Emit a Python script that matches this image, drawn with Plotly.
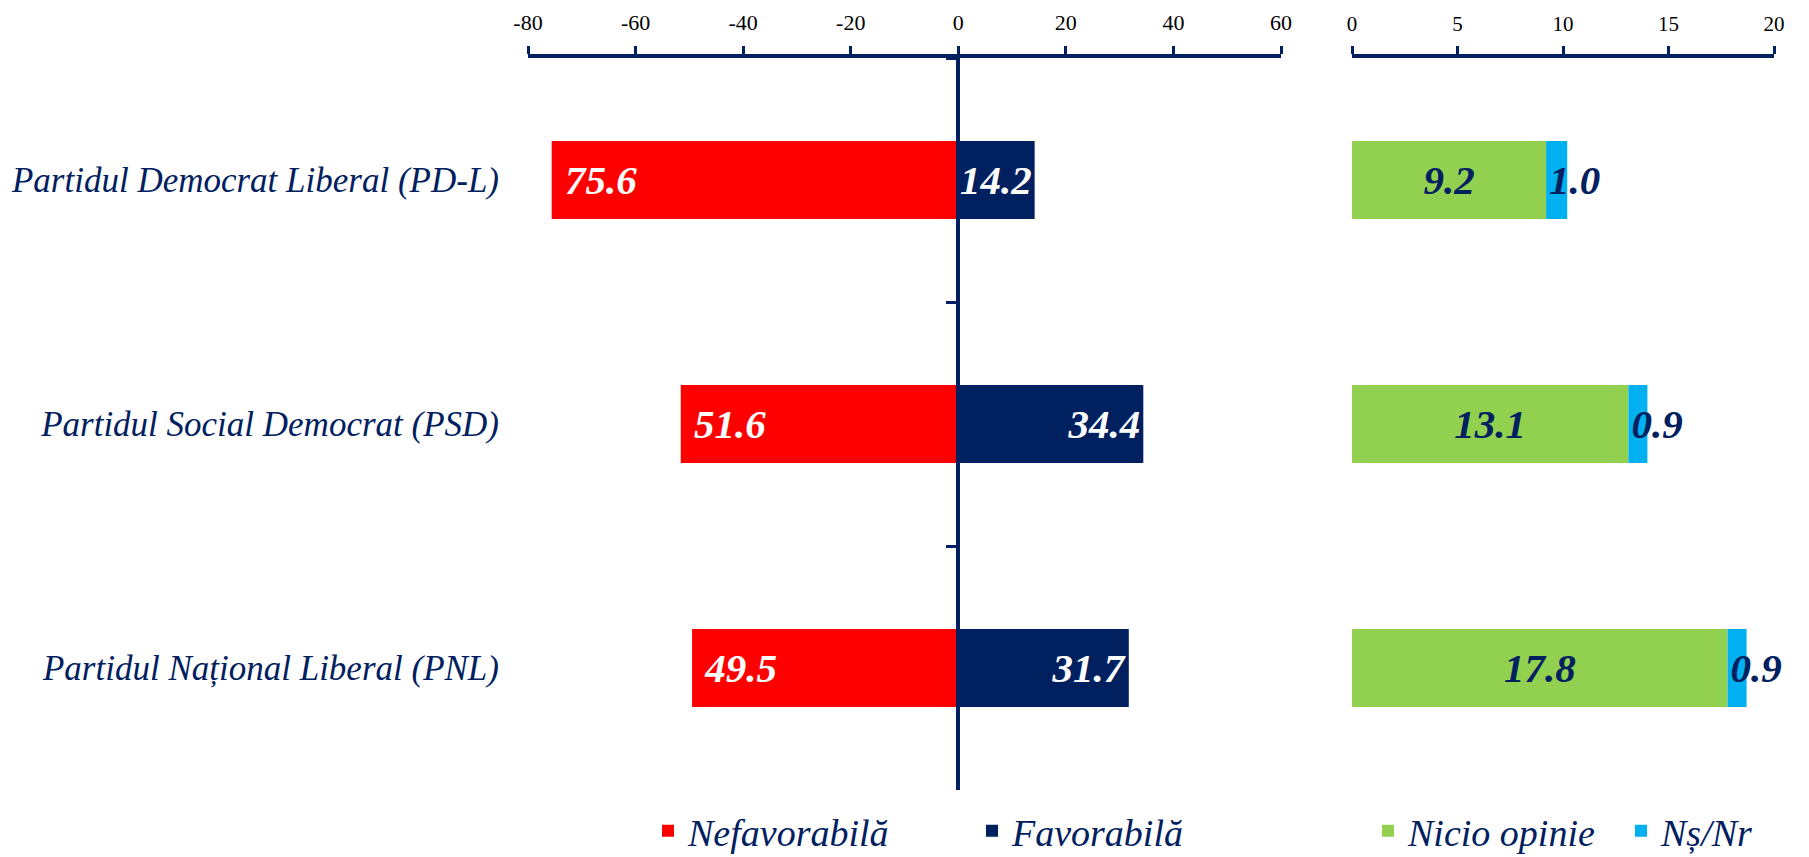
import plotly.graph_objects as go

# ---- data ----
parties = ["Partidul Democrat Liberal (PD-L)", "Partidul Social Democrat (PSD)", "Partidul Național Liberal (PNL)"]
nefavorabila = [75.6, 51.6, 49.5]
favorabila = [14.2, 34.4, 31.7]
nicio_opinie = [9.2, 13.1, 17.8]
ns_nr = [1.0, 0.9, 0.9]
left_ticks = [-80, -60, -40, -20, 0, 20, 40, 60]
right_ticks = [0, 5, 10, 15, 20]

NAVY = "#002060"
RED = "#FF0000"
GREEN = "#92D050"
BLUE = "#00B0F0"
FONT = "Liberation Serif"

OFF = 8  # page body margin
W, H = 1809 - OFF, 857 - OFF
TOP, BOT = 58 - OFF, 790 - OFF
L_RANGE = [-80, 60]
R_RANGE = [0, 20]
x1_dom = [(528 - OFF) / W, (1281 - OFF) / W]
x2_dom = [(1352 - OFF) / W, (1774 - OFF) / W]
zero_pos = x1_dom[0] + (0 - L_RANGE[0]) / (L_RANGE[1] - L_RANGE[0]) * (x1_dom[1] - x1_dom[0])
leg_y = (BOT - (831 - OFF)) / (BOT - TOP)

fig = go.Figure()

label_font_w = dict(family=FONT, size=41, color="white", style="italic", weight="bold")
label_font_n = dict(family=FONT, size=41, color=NAVY, style="italic", weight="bold")
NB = "\u00a0"

fig.add_trace(go.Bar(
    y=parties, x=[-v for v in nefavorabila], orientation="h", name="Nefavorabilă",
    marker=dict(color=RED, line=dict(width=0)),
    text=[f"{NB}{v:.1f}" for v in nefavorabila], textposition="inside", insidetextanchor="end",
    constraintext="none", textangle=0, textfont=label_font_w, insidetextfont=label_font_w,
    xaxis="x", yaxis="y", legend="legend", cliponaxis=False,
))
fig.add_trace(go.Bar(
    y=parties, x=favorabila, orientation="h", name="Favorabilă",
    marker=dict(color=NAVY, line=dict(width=0)),
    text=[f"{v:.1f}" for v in favorabila], textposition="inside", insidetextanchor="end",
    constraintext="none", textangle=0, textfont=label_font_w, insidetextfont=label_font_w,
    xaxis="x", yaxis="y", legend="legend", cliponaxis=False,
))
fig.add_trace(go.Bar(
    y=parties, x=nicio_opinie, orientation="h", name="Nicio opinie",
    marker=dict(color=GREEN, line=dict(width=0)),
    text=[f"{v:.1f}" for v in nicio_opinie], textposition="inside", insidetextanchor="middle",
    constraintext="none", textangle=0, textfont=label_font_n, insidetextfont=label_font_n,
    xaxis="x2", yaxis="y2", legend="legend2", cliponaxis=False,
))
fig.add_trace(go.Bar(
    y=parties, x=ns_nr, orientation="h", name="Nș/Nr",
    marker=dict(color=BLUE, line=dict(width=0)),
    text=[f"{v:.1f}" for v in ns_nr], textposition="inside", insidetextanchor="start",
    constraintext="none", textangle=0, textfont=label_font_n, insidetextfont=label_font_n,
    xaxis="x2", yaxis="y2", legend="legend2", cliponaxis=False,
))

fig.update_layout(
    width=W, height=H,
    margin=dict(l=0, r=0, t=TOP, b=H - BOT, autoexpand=False),
    paper_bgcolor="white", plot_bgcolor="white",
    barmode="relative", bargap=0.68,
    showlegend=True,
    xaxis=dict(
        domain=x1_dom, range=L_RANGE, side="top", anchor="y", automargin=False,
        tickmode="array", tickvals=left_ticks, ticktext=[str(t) for t in left_ticks],
        showline=True, linecolor=NAVY, linewidth=3.5,
        ticks="outside", ticklen=8, tickwidth=2.5, tickcolor=NAVY,
        showgrid=False, zeroline=False,
        tickfont=dict(family=FONT, size=22, color="#000000"),
        ticklabelstandoff=7,
    ),
    xaxis2=dict(
        domain=x2_dom, range=R_RANGE, side="top", anchor="y2", automargin=False,
        tickmode="array", tickvals=right_ticks, ticktext=[str(t) for t in right_ticks],
        showline=True, linecolor=NAVY, linewidth=3.5,
        ticks="outside", ticklen=8, tickwidth=2.5, tickcolor=NAVY,
        showgrid=False, zeroline=False,
        tickfont=dict(family=FONT, size=21, color="#000000"),
        ticklabelstandoff=7,
    ),
    yaxis=dict(
        type="category", categoryorder="array", categoryarray=parties,
        autorange="reversed", domain=[0, 1], automargin=False,
        anchor="free", position=zero_pos,
        showline=True, linecolor=NAVY, linewidth=3.5,
        ticks="outside", tickson="boundaries", ticklen=11, tickwidth=2.5, tickcolor=NAVY,
        showticklabels=False, showgrid=False, zeroline=False,
    ),
    yaxis2=dict(
        type="category", matches="y", domain=[0, 1], automargin=False,
        anchor="free", position=x1_dom[0],
        showline=False, ticks="", showgrid=False, zeroline=False,
        showticklabels=True,
        tickfont=dict(family=FONT, size=35, color=NAVY, style="italic"),
        ticklabelstandoff=29,
    ),
    legend=dict(
        orientation="h", x=(648 - OFF) / W, xanchor="left", y=leg_y, yanchor="middle",
        font=dict(family=FONT, size=38, color=NAVY, style="italic"),
        bgcolor="rgba(0,0,0,0)", itemclick=False, entrywidth=279,
    ),
    legend2=dict(
        orientation="h", x=(1368 - OFF) / W, xanchor="left", y=leg_y, yanchor="middle",
        font=dict(family=FONT, size=38, color=NAVY, style="italic"),
        bgcolor="rgba(0,0,0,0)", itemclick=False, entrywidth=208,
    ),
)

fig.write_html("out.html")
